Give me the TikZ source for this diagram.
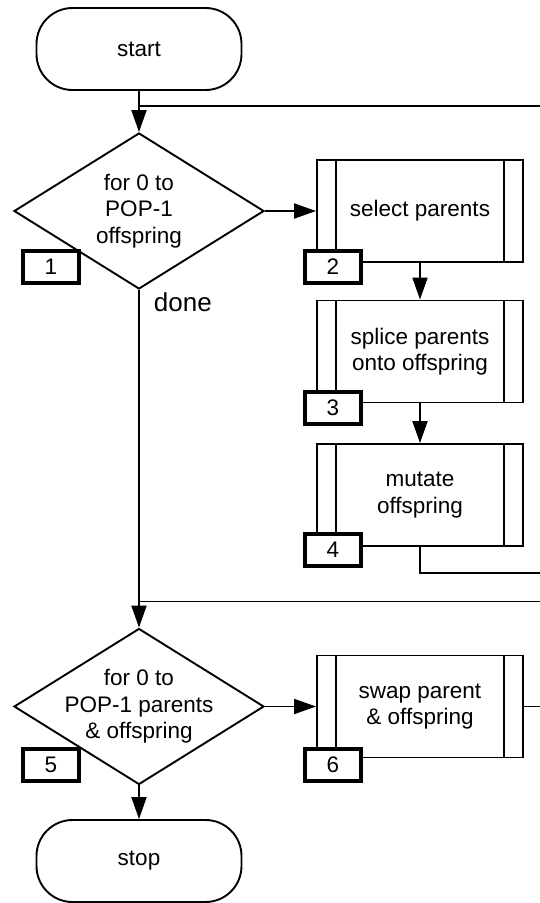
\documentclass[tikz,border=0pt]{standalone}
\usepackage{fontspec}
\setmainfont{Liberation Sans}
\usetikzlibrary{shapes.geometric,arrows.meta,calc}
\begin{document}
\begin{tikzpicture}[x=1pt,y=-1pt,
  line width=1.9pt,
  every node/.style={font=\fontsize{22.5}{26.5}\selectfont},
  term/.style={draw, rounded corners=36pt, minimum width=205pt, minimum height=82pt, inner sep=0pt},
  dec/.style={draw, diamond, minimum width=250pt, minimum height=156pt, inner sep=0pt, aspect=1},
  txt/.style={align=center, inner sep=0pt},
  proc/.style={draw, minimum width=206pt, minimum height=102pt, inner sep=0pt, align=center},
  numbox/.style={draw, fill=white, line width=4pt, minimum width=56pt, minimum height=32pt, inner sep=0pt},
  arr/.style={-{Triangle[length=22pt,width=15pt]}},
]
\useasboundingbox (0,0) rectangle (540,903);

\node[term] (start) at (139,49) {start};
\node[dec] (d1) at (139,211) {};
\node[txt] (d1t) at (139,211) {for 0 to\\POP-1\\offspring};
\node[proc] (p2) at (420,211) {select parents};
\node[proc] (p3) at (420,351.5) {splice parents\\onto offspring};
\node[proc] (p4) at (420,495) {mutate\\offspring};
\node[dec] (d2) at (139,706.5) {};
\node[txt] (d2t) at (139,706.5) {for 0 to\\POP-1 parents\\\& offspring};
\node[proc] (p6) at (420,706.5) {swap parent\\\& offspring};
\node[term] (stop) at (139,861) {stop};
\node[anchor=west, font=\fontsize{26}{30}\selectfont, inner sep=0pt] (done) at (153,302) {done};

\foreach \n in {p2,p3,p4,p6} {
  \draw ($(\n.north west)+(20,0)$) -- ($(\n.south west)+(20,0)$);
  \draw ($(\n.north east)+(-20,0)$) -- ($(\n.south east)+(-20,0)$);
}

\coordinate (r1) at (540,106);
\coordinate (r2) at (540,573);
\coordinate (r3) at (540,601.5);
\coordinate (r4) at (540,706.5);

\draw[arr] (start) -- (d1);
\draw (r1) -- (r1 -| start);
\draw[arr] (d1) -- (p2);
\draw[arr] (p2) -- (p3);
\draw[arr] (p3) -- (p4);
\draw (p4.south) |- (r2);
\draw[arr] (d1) -- (d2);
\draw (r3) -- (r3 -| d1);
\draw[arr] (d2) -- (p6);
\draw (p6) -- (r4);
\draw[arr] (d2) -- (stop);

\node[numbox] (n1) at (51,266.5) {1};
\node[numbox] (n2) at (333,267) {2};
\node[numbox] (n3) at (333,408) {3};
\node[numbox] (n4) at (333,550) {4};
\node[numbox] (n5) at (51,764.5) {5};
\node[numbox] (n6) at (333,764.5) {6};
\end{tikzpicture}
\end{document}
